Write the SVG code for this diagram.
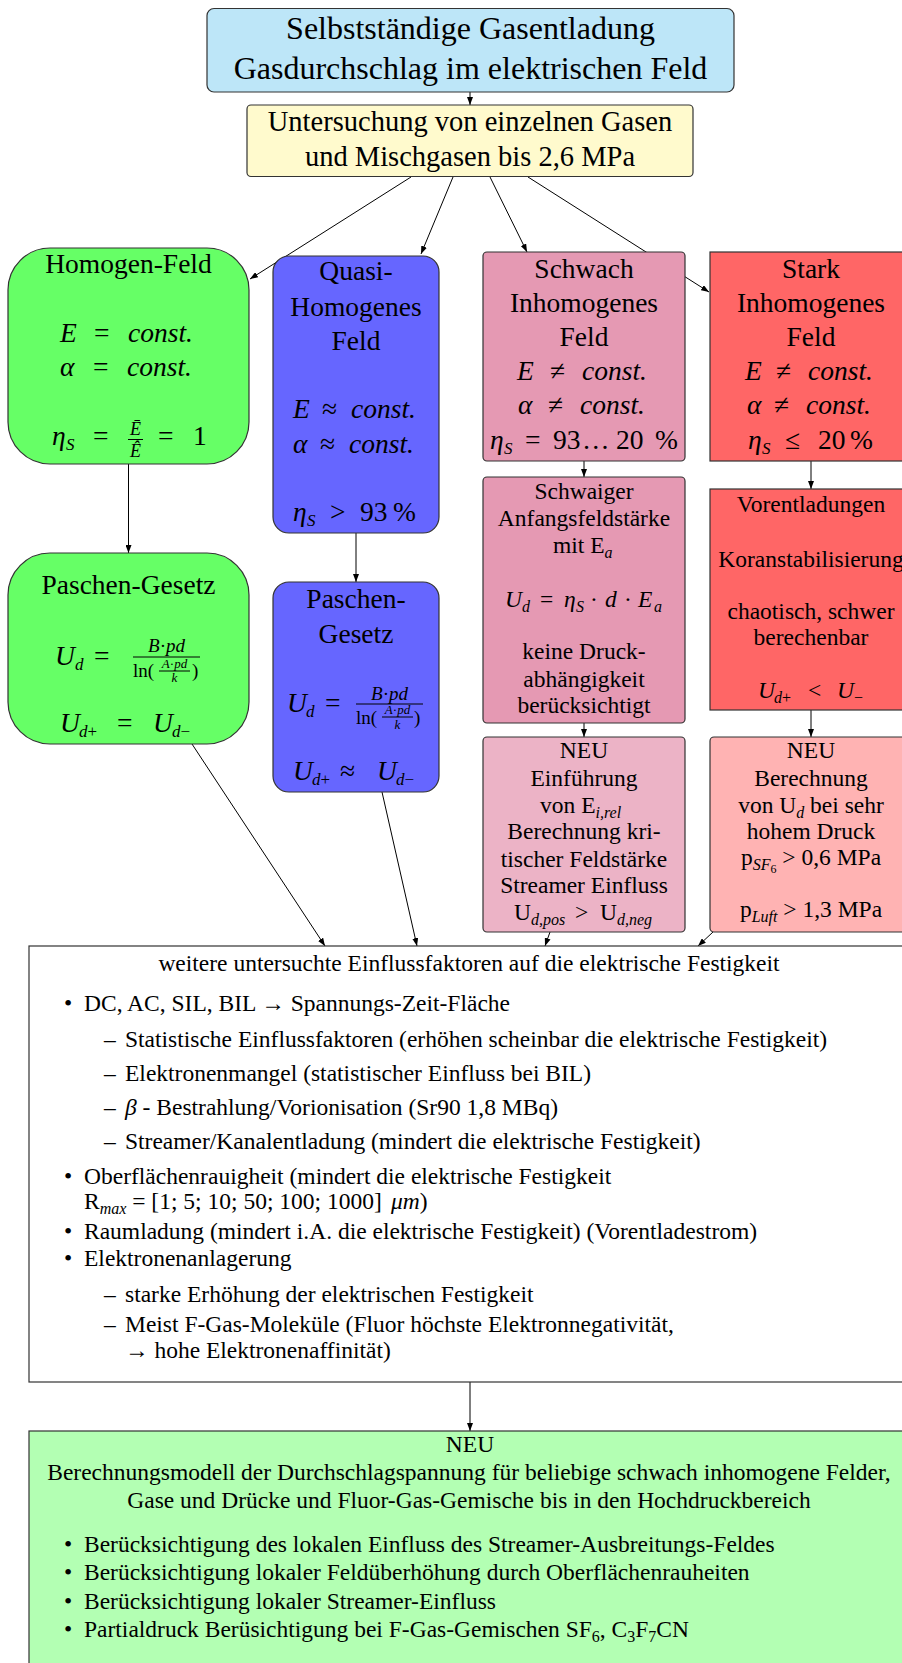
<svg xmlns="http://www.w3.org/2000/svg" width="902" height="1663" viewBox="0 0 902 1663">
<defs>
<marker id="ah" markerWidth="8" markerHeight="6" refX="8" refY="3" orient="auto" markerUnits="userSpaceOnUse">
<path d="M0,0 L8,3 L0,6 z" fill="#000"/>
</marker>
<style>
.t{font-family:"Liberation Serif","Times New Roman",serif;fill:#000}
.i{font-style:italic}
.box{stroke:#333;stroke-width:1.2}
.c{stroke:#000;stroke-width:1;fill:none;marker-end:url(#ah)}
.s32{font-size:32px}.s28{font-size:28.5px}.s27{font-size:27.5px}.s23{font-size:23.5px}
.sub{font-size:17px}.sub2{font-size:16px}
.fl{stroke:#000;stroke-width:1}
</style>
</defs>
<rect width="902" height="1663" fill="#fff"/>

<g id="connectors">
<line class="c" x1="470" y1="92" x2="470" y2="105"/>
<line class="c" x1="411" y1="177" x2="250" y2="279"/>
<line class="c" x1="453" y1="177" x2="421" y2="254"/>
<line class="c" x1="490" y1="177" x2="527" y2="252"/>
<line class="c" x1="528" y1="177" x2="709" y2="292"/>
<line class="c" x1="128.5" y1="464" x2="128.5" y2="553"/>
<line class="c" x1="356" y1="533" x2="356" y2="582"/>
<line class="c" x1="584" y1="461" x2="584" y2="477"/>
<line class="c" x1="811" y1="461" x2="811" y2="489"/>
<line class="c" x1="584" y1="723" x2="584" y2="737"/>
<line class="c" x1="811" y1="710" x2="811" y2="737"/>
<line class="c" x1="192" y1="744" x2="325" y2="946"/>
<line class="c" x1="382" y1="792" x2="417" y2="946"/>
<line class="c" x1="550" y1="932" x2="545" y2="946"/>
<line class="c" x1="713" y1="932" x2="698" y2="946"/>
<line class="c" x1="470" y1="1382" x2="470" y2="1431"/>
</g>

<g id="title">
<rect class="box" x="207" y="8.5" width="527" height="83.5" rx="7" fill="#bde6f8"/>
<text class="t s32" x="470.5" y="38.5" text-anchor="middle">Selbstständige Gasentladung</text>
<text class="t s32" x="470.5" y="78.5" text-anchor="middle">Gasdurchschlag im elektrischen Feld</text>
</g>

<g id="untersuchung">
<rect class="box" x="247" y="105" width="446" height="71.5" rx="4" fill="#fffacd"/>
<text class="t s28" x="470" y="131" text-anchor="middle">Untersuchung von einzelnen Gasen</text>
<text class="t s28" x="470" y="165.5" text-anchor="middle">und Mischgasen bis 2,6 MPa</text>
</g>

<g id="homogen">
<rect class="box" x="8" y="248" width="241" height="216" rx="42" fill="#66ff66"/>
<text class="t s27" x="128.5" y="273" text-anchor="middle">Homogen-Feld</text>
<text class="t s27"><tspan x="60" y="342" class="i">E</tspan><tspan x="94" y="342">=</tspan><tspan x="128" y="342" class="i">const.</tspan></text>
<text class="t s27"><tspan x="60" y="376" class="i">α</tspan><tspan x="93" y="376">=</tspan><tspan x="127" y="376" class="i">const.</tspan></text>
<text class="t s27"><tspan x="52" y="445" class="i">η</tspan><tspan x="66" y="450" class="i sub">S</tspan><tspan x="93" y="445">=</tspan><tspan x="158" y="445">=</tspan><tspan x="193" y="445">1</tspan></text>
<text class="t i" font-size="18" x="135.5" y="435" text-anchor="middle">Ē</text>
<line class="fl" x1="128" y1="439.5" x2="143" y2="439.5"/>
<text class="t i" font-size="18" x="135.5" y="457" text-anchor="middle">Ê</text>
</g>

<g id="quasi">
<rect class="box" x="273" y="256" width="166" height="277" rx="16" fill="#6666ff"/>
<text class="t s27" x="356" y="280" text-anchor="middle">Quasi-</text>
<text class="t s27" x="356" y="316" text-anchor="middle">Homogenes</text>
<text class="t s27" x="356" y="350" text-anchor="middle">Feld</text>
<text class="t s27"><tspan x="293" y="418" class="i">E</tspan><tspan x="322" y="418">≈</tspan><tspan x="351" y="418" class="i">const.</tspan></text>
<text class="t s27"><tspan x="293" y="453" class="i">α</tspan><tspan x="320" y="453">≈</tspan><tspan x="349" y="453" class="i">const.</tspan></text>
<text class="t s27"><tspan x="293" y="521" class="i">η</tspan><tspan x="307" y="526" class="i sub">S</tspan><tspan x="330" y="521">&gt;</tspan><tspan x="360" y="521">93</tspan><tspan x="393" y="521">%</tspan></text>
</g>

<g id="schwach">
<rect class="box" x="483" y="252" width="202" height="209" rx="4" fill="#e599b3"/>
<text class="t s27" x="584" y="278" text-anchor="middle">Schwach</text>
<text class="t s27" x="584" y="312" text-anchor="middle">Inhomogenes</text>
<text class="t s27" x="584" y="346" text-anchor="middle">Feld</text>
<text class="t s27"><tspan x="517" y="380" class="i">E</tspan><tspan x="550" y="380">≠</tspan><tspan x="582" y="380" class="i">const.</tspan></text>
<text class="t s27"><tspan x="518" y="414" class="i">α</tspan><tspan x="548" y="414">≠</tspan><tspan x="580" y="414" class="i">const.</tspan></text>
<text class="t s27"><tspan x="490" y="449" class="i">η</tspan><tspan x="504" y="454" class="i sub">S</tspan><tspan x="525" y="449">=</tspan><tspan x="553" y="449">93</tspan><tspan x="582" y="449">…</tspan><tspan x="616" y="449">20</tspan><tspan x="655" y="449">%</tspan></text>
</g>

<g id="stark">
<rect class="box" x="710" y="252" width="202" height="209" fill="#ff6666"/>
<text class="t s27" x="811" y="278" text-anchor="middle">Stark</text>
<text class="t s27" x="811" y="312" text-anchor="middle">Inhomogenes</text>
<text class="t s27" x="811" y="346" text-anchor="middle">Feld</text>
<text class="t s27"><tspan x="745" y="380" class="i">E</tspan><tspan x="776" y="380">≠</tspan><tspan x="808" y="380" class="i">const.</tspan></text>
<text class="t s27"><tspan x="747" y="414" class="i">α</tspan><tspan x="774" y="414">≠</tspan><tspan x="806" y="414" class="i">const.</tspan></text>
<text class="t s27"><tspan x="748" y="449" class="i">η</tspan><tspan x="762" y="454" class="i sub">S</tspan><tspan x="785" y="449">≤</tspan><tspan x="818" y="449">20</tspan><tspan x="850" y="449">%</tspan></text>
</g>

<g id="paschen-homogen">
<rect class="box" x="8" y="553" width="241" height="191" rx="42" fill="#66ff66"/>
<text class="t s27" x="128.5" y="594" text-anchor="middle">Paschen-Gesetz</text>
<text class="t s27"><tspan x="55" y="665" class="i">U</tspan><tspan x="75" y="670" class="i sub">d</tspan><tspan x="94" y="665">=</tspan></text>
<text class="t" font-size="19" x="166.5" y="652" text-anchor="middle"><tspan class="i">B</tspan>·<tspan class="i">pd</tspan></text>
<line class="fl" x1="133" y1="657" x2="200" y2="657"/>
<text class="t" font-size="19" x="133" y="677">ln(</text>
<text class="t" font-size="13" x="174.5" y="668" text-anchor="middle"><tspan class="i">A</tspan>·<tspan class="i">pd</tspan></text>
<line class="fl" x1="159" y1="671" x2="190" y2="671" stroke-width="0.7"/>
<text class="t i" font-size="13" x="174.5" y="682" text-anchor="middle">k</text>
<text class="t" font-size="19" x="192" y="677">)</text>
<text class="t s27"><tspan x="60" y="732" class="i">U</tspan><tspan x="79" y="737" class="sub"><tspan class="i">d</tspan>+</tspan><tspan x="117" y="732">=</tspan><tspan x="153" y="732" class="i">U</tspan><tspan x="172" y="737" class="sub"><tspan class="i">d</tspan>−</tspan></text>
</g>

<g id="paschen-quasi">
<rect class="box" x="273" y="582" width="166" height="210" rx="16" fill="#6666ff"/>
<text class="t s27" x="356" y="608" text-anchor="middle">Paschen-</text>
<text class="t s27" x="356" y="643" text-anchor="middle">Gesetz</text>
<text class="t s27"><tspan x="287" y="712" class="i">U</tspan><tspan x="306" y="717" class="i sub">d</tspan><tspan x="325" y="712">=</tspan></text>
<text class="t" font-size="19" x="389.5" y="700" text-anchor="middle"><tspan class="i">B</tspan>·<tspan class="i">pd</tspan></text>
<line class="fl" x1="356" y1="704" x2="423" y2="704"/>
<text class="t" font-size="19" x="356" y="724">ln(</text>
<text class="t" font-size="13" x="397.5" y="714" text-anchor="middle"><tspan class="i">A</tspan>·<tspan class="i">pd</tspan></text>
<line class="fl" x1="382" y1="717" x2="413" y2="717" stroke-width="0.7"/>
<text class="t i" font-size="13" x="397.5" y="729" text-anchor="middle">k</text>
<text class="t" font-size="19" x="414" y="724">)</text>
<text class="t s27"><tspan x="293" y="780" class="i">U</tspan><tspan x="312" y="785" class="sub"><tspan class="i">d</tspan>+</tspan><tspan x="340" y="780">≈</tspan><tspan x="377" y="780" class="i">U</tspan><tspan x="396" y="785" class="sub"><tspan class="i">d</tspan>−</tspan></text>
</g>

<g id="schwaiger">
<rect class="box" x="483" y="477" width="202" height="246" rx="4" fill="#e599b3"/>
<text class="t s23" x="584" y="499" text-anchor="middle">Schwaiger</text>
<text class="t s23" x="584" y="526" text-anchor="middle">Anfangsfeldstärke</text>
<text class="t s23"><tspan x="553" y="553">mit E</tspan><tspan class="i sub2" dy="5">a</tspan></text>
<text class="t s23"><tspan x="505" y="607" class="i">U</tspan><tspan x="522" y="612" class="i sub2">d</tspan><tspan x="540" y="607">=</tspan><tspan x="564" y="607" class="i">η</tspan><tspan x="576" y="612" class="i sub2">S</tspan><tspan x="590" y="607">·</tspan><tspan x="605" y="607" class="i">d</tspan><tspan x="624" y="607">·</tspan><tspan x="638" y="607" class="i">E</tspan><tspan x="654" y="612" class="i sub2">a</tspan></text>
<text class="t s23" x="584" y="659" text-anchor="middle">keine Druck-</text>
<text class="t s23" x="584" y="687" text-anchor="middle">abhängigkeit</text>
<text class="t s23" x="584" y="713" text-anchor="middle">berücksichtigt</text>
</g>

<g id="vorentladungen">
<rect class="box" x="710" y="489" width="202" height="221" fill="#ff6666"/>
<text class="t s23" x="811" y="512" text-anchor="middle">Vorentladungen</text>
<text class="t s23" x="811" y="567" text-anchor="middle">Koranstabilisierung</text>
<text class="t s23" x="811" y="619" text-anchor="middle">chaotisch, schwer</text>
<text class="t s23" x="811" y="645" text-anchor="middle">berechenbar</text>
<text class="t s23"><tspan x="758" y="698" class="i">U</tspan><tspan x="774" y="703" class="sub2"><tspan class="i">d</tspan>+</tspan><tspan x="808" y="698">&lt;</tspan><tspan x="837" y="698" class="i">U</tspan><tspan x="854" y="703" class="sub2">−</tspan></text>
</g>

<g id="neu-schwach">
<rect class="box" x="483" y="737" width="202" height="195" rx="4" fill="#ecb3c6"/>
<text class="t s23" x="584" y="758" text-anchor="middle">NEU</text>
<text class="t s23" x="584" y="786" text-anchor="middle">Einführung</text>
<text class="t s23"><tspan x="540" y="813">von E</tspan><tspan class="i sub2" dy="5">i,rel</tspan></text>
<text class="t s23" x="584" y="839" text-anchor="middle">Berechnung kri-</text>
<text class="t s23" x="584" y="867" text-anchor="middle">tischer Feldstärke</text>
<text class="t s23" x="584" y="893" text-anchor="middle">Streamer Einfluss</text>
<text class="t s23"><tspan x="514" y="920">U</tspan><tspan class="i sub2" dy="5">d,pos</tspan><tspan x="575" y="920">&gt;</tspan><tspan x="600" y="920">U</tspan><tspan class="i sub2" dy="5">d,neg</tspan></text>
</g>

<g id="neu-stark">
<rect class="box" x="710" y="737" width="202" height="195" rx="4" fill="#ffb3b3"/>
<text class="t s23" x="811" y="758" text-anchor="middle">NEU</text>
<text class="t s23" x="811" y="786" text-anchor="middle">Berechnung</text>
<text class="t s23" x="811" y="813" text-anchor="middle">von U<tspan class="i sub2" dy="5">d</tspan><tspan dy="-5"> bei sehr</tspan></text>
<text class="t s23" x="811" y="839" text-anchor="middle">hohem Druck</text>
<text class="t s23" x="811" y="865" text-anchor="middle">p<tspan class="i sub2" dy="5">SF</tspan><tspan font-size="12" dy="3">6</tspan><tspan dy="-8"> &gt; 0,6 MPa</tspan></text>
<text class="t s23" x="811" y="917" text-anchor="middle">p<tspan class="i sub2" dy="5">Luft</tspan><tspan dy="-5"> &gt; 1,3 MPa</tspan></text>
</g>

<g id="einflussfaktoren">
<rect class="box" x="29" y="946" width="882" height="436" fill="#fff"/>
<text class="t s23" x="469" y="971" text-anchor="middle">weitere untersuchte Einflussfaktoren auf die elektrische Festigkeit</text>
<text class="t s23"><tspan x="64" y="1011">•</tspan><tspan x="84" y="1011">DC, AC, SIL, BIL → Spannungs-Zeit-Fläche</tspan></text>
<text class="t s23"><tspan x="104" y="1047">–</tspan><tspan x="125" y="1047">Statistische Einflussfaktoren (erhöhen scheinbar die elektrische Festigkeit)</tspan></text>
<text class="t s23"><tspan x="104" y="1081">–</tspan><tspan x="125" y="1081">Elektronenmangel (statistischer Einfluss bei BIL)</tspan></text>
<text class="t s23"><tspan x="104" y="1115">–</tspan><tspan x="125" y="1115" class="i">β</tspan><tspan> - Bestrahlung/Vorionisation (Sr90 1,8 MBq)</tspan></text>
<text class="t s23"><tspan x="104" y="1149">–</tspan><tspan x="125" y="1149">Streamer/Kanalentladung (mindert die elektrische Festigkeit)</tspan></text>
<text class="t s23"><tspan x="64" y="1184">•</tspan><tspan x="84" y="1184">Oberflächenrauigheit (mindert die elektrische Festigkeit</tspan></text>
<text class="t s23"><tspan x="84" y="1209">R</tspan><tspan class="i sub2" dy="5">max</tspan><tspan dy="-5"> = [1; 5; 10; 50; 100; 1000]</tspan><tspan x="391" y="1209" class="i">μm</tspan><tspan>)</tspan></text>
<text class="t s23"><tspan x="64" y="1239">•</tspan><tspan x="84" y="1239">Raumladung (mindert i.A. die elektrische Festigkeit) (Vorentladestrom)</tspan></text>
<text class="t s23"><tspan x="64" y="1266">•</tspan><tspan x="84" y="1266">Elektronenanlagerung</tspan></text>
<text class="t s23"><tspan x="104" y="1302">–</tspan><tspan x="125" y="1302">starke Erhöhung der elektrischen Festigkeit</tspan></text>
<text class="t s23"><tspan x="104" y="1332">–</tspan><tspan x="125" y="1332">Meist F-Gas-Moleküle (Fluor höchste Elektronnegativität,</tspan></text>
<text class="t s23" x="125" y="1358">→ hohe Elektronenaffinität)</text>
</g>

<g id="berechnungsmodell">
<rect class="box" x="29" y="1431" width="882" height="260" fill="#b3ffb3"/>
<text class="t s23" x="470" y="1452" text-anchor="middle">NEU</text>
<text class="t s23" x="469" y="1480" text-anchor="middle">Berechnungsmodell der Durchschlagspannung für beliebige schwach inhomogene Felder,</text>
<text class="t s23" x="469" y="1508" text-anchor="middle">Gase und Drücke und Fluor-Gas-Gemische bis in den Hochdruckbereich</text>
<text class="t s23"><tspan x="64" y="1552">•</tspan><tspan x="84" y="1552">Berücksichtigung des lokalen Einfluss des Streamer-Ausbreitungs-Feldes</tspan></text>
<text class="t s23"><tspan x="64" y="1580">•</tspan><tspan x="84" y="1580">Berücksichtigung lokaler Feldüberhöhung durch Oberflächenrauheiten</tspan></text>
<text class="t s23"><tspan x="64" y="1609">•</tspan><tspan x="84" y="1609">Berücksichtigung lokaler Streamer-Einfluss</tspan></text>
<text class="t s23"><tspan x="64" y="1637">•</tspan><tspan x="84" y="1637">Partialdruck Berüsichtigung bei F-Gas-Gemischen SF</tspan><tspan class="sub2" dy="5">6</tspan><tspan dy="-5">, C</tspan><tspan class="sub2" dy="5">3</tspan><tspan dy="-5">F</tspan><tspan class="sub2" dy="5">7</tspan><tspan dy="-5">CN</tspan></text>
</g>
</svg>
